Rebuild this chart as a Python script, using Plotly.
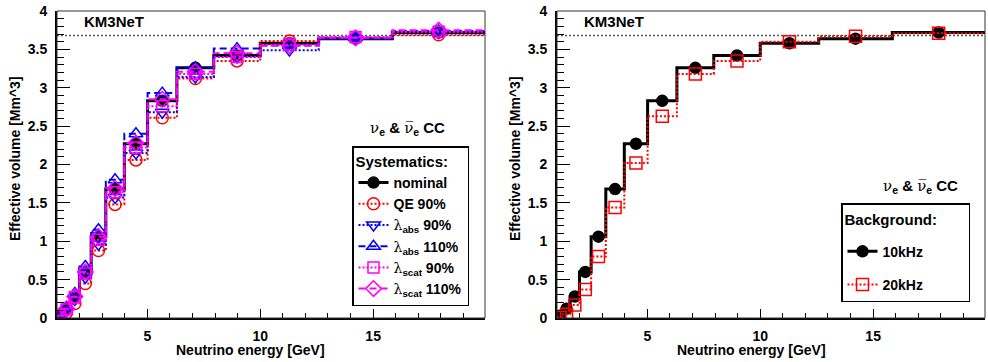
import plotly.graph_objects as go

# ---------------- data ----------------
bin_edges = [1.0, 1.259, 1.585, 1.995, 2.512, 3.162, 3.981, 5.012, 6.310, 7.943, 10.0, 12.589, 15.849, 19.953]

nominal = [0.03, 0.12, 0.28, 0.60, 1.06, 1.68, 2.27, 2.83, 3.26, 3.42, 3.58, 3.64, 3.72]
qe_90 = [0.01, 0.07, 0.19, 0.45, 0.88, 1.48, 2.06, 2.61, 3.12, 3.35, 3.61, 3.65, 3.69]
abs_90 = [0.02, 0.09, 0.24, 0.53, 0.96, 1.57, 2.15, 2.68, 3.14, 3.40, 3.49, 3.64, 3.72]
abs_110 = [0.04, 0.14, 0.32, 0.67, 1.15, 1.80, 2.40, 2.93, 3.26, 3.51, 3.55, 3.65, 3.74]
scat_90 = [0.03, 0.11, 0.27, 0.58, 1.02, 1.64, 2.22, 2.76, 3.18, 3.40, 3.56, 3.66, 3.73]
scat_110 = [0.03, 0.12, 0.28, 0.60, 1.06, 1.69, 2.28, 2.85, 3.21, 3.45, 3.55, 3.65, 3.75]

bkg_10khz = nominal
bkg_20khz = [0.01, 0.05, 0.17, 0.37, 0.80, 1.44, 2.02, 2.63, 3.18, 3.35, 3.60, 3.67, 3.71]

geometric_volume = 3.68

y_ticks = [0, 0.5, 1, 1.5, 2, 2.5, 3, 3.5, 4]
y_tick_labels = ["0", "0.5", "1", "1.5", "2", "2.5", "3", "3.5", "4"]
x_ticks = [5, 10, 15]
x_tick_labels = ["5", "10", "15"]

FONT = "Liberation Sans"
W, H = 988, 362
GREEK = "<span style=\"font-family:'DejaVu Serif';font-weight:normal\">{}</span>"
LAM = GREEK.format("λ")


def step_xy(values):
    xs, ys = [], []
    for i, v in enumerate(values):
        xs += [bin_edges[i], bin_edges[i + 1]]
        ys += [v, v]
    return xs, ys


centers = [(bin_edges[i] + bin_edges[i + 1]) / 2 for i in range(len(bin_edges) - 1)]

fig = go.Figure()


def add_series(values, name, color, dash, width, symbol, msize, xa, ya, legend, mline=1.5):
    xs, ys = step_xy(values)
    fig.add_trace(go.Scatter(x=xs, y=ys, mode="lines", xaxis=xa, yaxis=ya,
                             line=dict(color=color, width=width, dash=dash),
                             showlegend=False, hoverinfo="skip"))
    mk = dict(symbol=symbol, size=msize, color=color, line=dict(color=color, width=mline))
    fig.add_trace(go.Scatter(x=centers, y=values, mode="markers", xaxis=xa, yaxis=ya,
                             marker=mk, showlegend=False))
    fig.add_trace(go.Scatter(x=[None], y=[None], mode="lines+markers", xaxis=xa, yaxis=ya,
                             line=dict(color=color, width=width, dash=dash), marker=mk,
                             name=name, legend=legend, legendgroup=name, showlegend=True))


# reference lines
for xa, ya in (("x", "y"), ("x2", "y2")):
    fig.add_trace(go.Scatter(x=[bin_edges[0], bin_edges[-1]], y=[geometric_volume, geometric_volume],
                             mode="lines", xaxis=xa, yaxis=ya,
                             line=dict(color="#555555", width=1.5, dash="2px,2px"),
                             showlegend=False, hoverinfo="skip"))

# left panel
add_series(nominal, "nominal", "black", "solid", 3, "circle", 11, "x", "y", "legend")
add_series(qe_90, "QE 90%", "#ff0000", "2px,2px", 2, "circle-open", 12, "x", "y", "legend")
add_series(abs_90, LAM + "<sub>abs</sub> 90%", "#0000ff", "2px,2px", 2, "triangle-down-open", 12, "x", "y", "legend")
add_series(abs_110, LAM + "<sub>abs</sub> 110%", "#0000ff", "7px,4px", 2, "triangle-up-open", 12, "x", "y", "legend")
add_series(scat_90, LAM + "<sub>scat</sub> 90%", "#ff00ff", "2px,2px", 2, "square-open", 11, "x", "y", "legend")
add_series(scat_110, LAM + "<sub>scat</sub> 110%", "#ff00ff", "7px,4px", 2, "diamond-open", 12, "x", "y", "legend")

# right panel
add_series(bkg_10khz, "10kHz", "black", "solid", 3, "circle", 11, "x2", "y2", "legend2")
add_series(bkg_20khz, "20kHz", "#ff0000", "2px,2px", 2, "square-open", 12, "x2", "y2", "legend2")

x_dom1 = [57 / W, 485 / W]
x_dom2 = [557 / W, 985 / W]
y_dom = [1 - 318 / H, 1 - 11 / H]

axis_font = dict(family=FONT, size=14, color="black", weight="bold")


def xaxis(dom, anchor):
    return dict(domain=dom, anchor=anchor, range=[bin_edges[0], bin_edges[-1]],
                tickmode="array", tickvals=x_ticks, ticktext=x_tick_labels,
                ticks="inside", ticklen=9, tickwidth=1, tickcolor="black",
                minor=dict(ticks="inside", ticklen=5, dtick=1, tick0=0, tickcolor="black", tickwidth=1),
                showline=True, linecolor="black", linewidth=2, mirror=False,
                showgrid=False, zeroline=False, tickfont=axis_font, automargin=False,
                ticklabelstandoff=4)


def yaxis(dom, anchor):
    return dict(domain=dom, anchor=anchor, range=[0, 4],
                tickmode="array", tickvals=y_ticks, ticktext=y_tick_labels,
                ticks="inside", ticklen=13, tickwidth=1, tickcolor="black",
                minor=dict(ticks="inside", ticklen=7, dtick=0.1, tick0=0, tickcolor="black", tickwidth=1),
                showline=True, linecolor="black", linewidth=2, mirror=False,
                showgrid=False, zeroline=False, tickfont=axis_font, automargin=False,
                ticklabelstandoff=5)


leg_font = dict(family=FONT, size=14, color="black", weight="bold")
title_font = dict(family=FONT, size=15, color="black", weight="bold")

fig.update_layout(
    width=W, height=H,
    margin=dict(l=0, r=0, t=0, b=0),
    paper_bgcolor="white", plot_bgcolor="white",
    xaxis=xaxis(x_dom1, "y"), yaxis=yaxis(y_dom, "x"),
    xaxis2=xaxis(x_dom2, "y2"), yaxis2=yaxis(y_dom, "x2"),
    legend=dict(x=352 / W, y=1 - 146 / H, xanchor="left", yanchor="top",
                bgcolor="white", bordercolor="black", borderwidth=1.5,
                font=leg_font, itemwidth=30, tracegroupgap=0,
                title=dict(text="Systematics:" + "&nbsp;" * 4, font=title_font)),
    legend2=dict(x=841 / W, y=1 - 203 / H, xanchor="left", yanchor="top",
                 bgcolor="white", bordercolor="black", borderwidth=1.5,
                 font=leg_font, itemwidth=30, tracegroupgap=12,
                 title=dict(text="&nbsp;<br><span style='font-size:15px'>Background:" + "&nbsp;" * 7 +
                                 "</span><br>&nbsp;",
                            font=dict(family=FONT, size=8, color="black", weight="bold"))),
    showlegend=True,
)

# frames
for xr, yr in (("x domain", "y domain"), ("x2 domain", "y2 domain")):
    fig.add_shape(type="rect", xref=xr, yref=yr, x0=0, x1=1, y0=0, y1=1,
                  line=dict(color="#333333", width=1), layer="above")

ann_font = dict(family=FONT, size=14, color="black", weight="bold")
for off in (0, 500):
    fig.add_annotation(text="KM3NeT", x=(82 + off) / W, y=1 - 22 / H, xref="paper", yref="paper",
                       xanchor="left", yanchor="middle", showarrow=False,
                       font=dict(family=FONT, size=15, color="black", weight="bold"))
    fig.add_annotation(text="Neutrino energy [GeV]", x=(251 + off) / W, y=1 - 350 / H,
                       xref="paper", yref="paper", xanchor="center", yanchor="middle",
                       showarrow=False, font=ann_font)
    fig.add_annotation(text="Effective volume [Mm^3]", x=(15 + off) / W, y=1 - 159 / H,
                       xref="paper", yref="paper", xanchor="center", yanchor="middle",
                       textangle=-90, showarrow=False, font=ann_font)

nu = GREEK.format("ν")
nubar = GREEK.format("ν\u0305")
nu_text = nu + "<sub>e</sub> & " + nubar + "<sub>e</sub> CC"
for xp, yp in ((407, 128), (920, 187)):
    fig.add_annotation(text=nu_text, x=xp / W, y=1 - yp / H, xref="paper", yref="paper",
                       xanchor="center", yanchor="middle", showarrow=False,
                       font=dict(family=FONT, size=15, color="black", weight="bold"))

fig.write_html("out.html", config={"displayModeBar": False},
               post_script="document.body.style.margin='0px';document.body.style.overflow='hidden';")
